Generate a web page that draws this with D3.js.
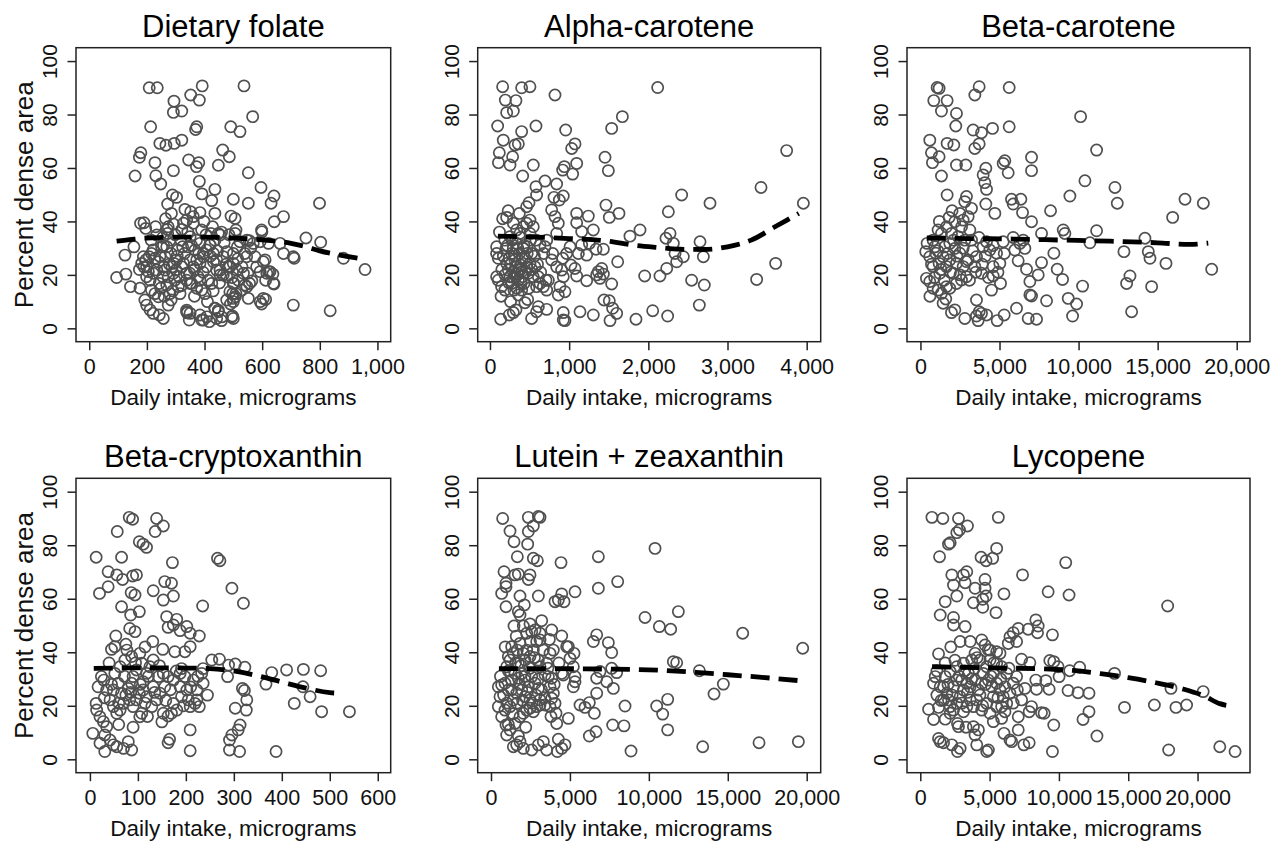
<!DOCTYPE html>
<html lang="en">
<head>
  <meta charset="UTF-8">
  <title>Dense area vs daily intake</title>
  <script src="https://d3js.org/d3.v7.min.js"></script>
  <style>
    body { margin: 0; background: #fff; }
    svg { display: block; font-family: "Liberation Sans", Arial, Helvetica, sans-serif; }
  </style>
</head>
<body>
  <div id="chart"></div>
  <script>
    // panel titles and axis ticks
    const titles = ["Dietary folate", "Alpha-carotene", "Beta-carotene", "Beta-cryptoxanthin", "Lutein + zeaxanthin", "Lycopene"];
    const yTicks = [0, 20, 40, 60, 80, 100];
    const xTicks = [
      [0, 200, 400, 600, 800, 1000],
      [0, 1000, 2000, 3000, 4000],
      [0, 5000, 10000, 15000, 20000],
      [0, 100, 200, 300, 400, 500, 600],
      [0, 5000, 10000, 15000, 20000],
      [0, 5000, 10000, 15000, 20000]
    ];
    const xDomains = [[-46, 1046], [-155, 4177], [-850, 20840], [-29, 627], [-843, 20887], [-959, 23784]];
    const yDomain = [-5, 105];
    const xLabel = "Daily intake, micrograms";
    const yLabel = "Percent dense area";

    // smoothed fits (dashed lines)
    const folateFitX = [95, 150, 200, 250, 300, 350, 400, 450, 500, 550, 600, 650, 700, 750, 800, 850, 900, 955];
    const folateFitY = [32.6, 33.3, 33.8, 34.0, 34.1, 34.1, 34.1, 34.0, 33.8, 33.5, 33.1, 32.6, 31.8, 30.6, 29.0, 27.8, 26.8, 25.8];
    const alphaFitX = [100, 500, 1000, 1500, 1800, 2100, 2400, 2700, 3000, 3300, 3600, 3900];
    const alphaFitY = [34.5, 34.2, 33.6, 32.6, 31.2, 30.3, 29.6, 29.5, 30.5, 33.0, 38.0, 43.0];
    const betaFitX = [400, 3000, 6000, 9000, 12000, 15000, 17000, 18200];
    const betaFitY = [33.8, 33.6, 33.4, 33.0, 32.6, 32.0, 31.4, 31.9];
    const cryptoFitX = [8, 50, 100, 150, 200, 250, 300, 350, 400, 450, 500, 520];
    const cryptoFitY = [34.0, 34.1, 34.2, 34.2, 34.1, 33.9, 33.0, 31.2, 28.9, 26.6, 24.9, 24.7];
    const luteinFitX = [500, 3000, 6000, 9000, 11000, 13000, 15000, 17000, 19700];
    const luteinFitY = [33.9, 33.9, 33.8, 33.6, 33.2, 32.5, 31.6, 30.7, 29.3];
    const lycoFitX = [850, 3000, 6000, 9000, 11000, 13000, 15000, 17000, 19000, 20500, 21600, 22700];
    const lycoFitY = [34.6, 34.4, 34.1, 33.8, 33.2, 32.0, 30.5, 28.6, 26.2, 23.6, 20.8, 19.8];

    // observations [intake, percent dense area]
    const folatePts = [
      [208,90],[236,90],[392,90.7],[537,90.7],[352,87.3],[382,85.4],[294,85],[292,80.8],[321,81.3],[567,79.2],
      [213,75.4],[373,75.4],[369,74.4],[491,75.4],[523,73.6],[321,70.4],[295,69.2],[266,68.5],[245,69.2],[463,66.7],
      [486,64.2],[179,65.7],[174,64],[345,63],[380,62],[372,60.5],[228,62],[448,61],[292,59],[552,58.2],
      [159,57],[231,57.1],[248,54],[382,55],[596,52.7],[436,52],[289,49.9],[303,49],[391,50.3],[641,49.5],
      [631,46.8],[799,46.8],[500,48.3],[425,47.8],[552,46.8],[332,44.5],[352,43.6],[272,46.5],[384,43.3],[436,43],
      [492,42],[506,41.1],[674,41.8],[642,39.9],[598,36.8],[509,36.8],[178,39.3],[190,39.5],[196,37.4],[271,37],
      [292,39],[321,37],[338,40.5],[361,41.8],[398,40],[390,36.8],[422,35.5],[752,33.8],[803,32.2],[448,35.5],
      [459,36],[555,32.8],[124,27.4],[155,30.5],[95,19],[127,20.3],[143,15.6],[176,15],[174,22],[188,26.8],
      [199,23],[208,26.8],[674,28],[711,26.2],[882,26.2],[957,22],[708,8.7],[836,6.6],[598,9.1],[612,10.8],
      [612,18],[622,21.2],[637,20.3],[641,16.6],[610,25.6],[575,26.8],[546,26.8],[560,30],[550,20.6],[556,16.8],
      [564,17.7],[502,16.8],[498,13],[509,13],[500,10],[490,9.1],[507,11.8],[497,4.6],[500,3.7],[338,6.2],
      [347,3.1],[340,5.8],[384,5],[396,3.1],[417,2.5],[436,7.5],[448,6.2],[459,2.9],[193,10.6],[199,8.7],
      [211,6.9],[222,5.6],[243,5],[257,3.7],[274,8.7],
      [327,39.3],[361,39.3],[350,34.3],[384,31.8],[396,28],[373,25.6],[408,23],[431,24.9],[442,21.8],[454,20],
      [465,26.8],[477,28.7],[483,23],[500,24.3],[512,21.8],[517,18],[535,20.6],[547,15.6],[500,16.8],[488,13.7],
      [500,11.2],[477,10.6],[425,16.8],[384,18],[350,16.8],[338,20.6],[327,24.3],[350,25.6],[344,30.5],[367,29.3],
      [419,31.2],[436,33],[454,34.9],[506,35.5],[547,33],[599,36.1],[593,32.4],[622,31.8],[662,31.8],[708,26.8],
      [604,24.9],[616,20.6],[627,21.2],[639,16.8],[552,11.2],[593,10],[604,11.2],[338,6.8],[350,5.6],[436,7.5],
      [448,6.8],[408,4.3],[390,3.1],[442,3.7],[460,4.3],[494,4.3],
      [182,24.3],[190,23],[197,25.6],[199,19.3],[205,21.2],[211,18],[216,28],[222,29.3],[228,26.2],[234,21.8],
      [240,24.9],[243,16.8],[248,15],[255,19.3],[259,23],[263,26.8],[269,30.5],[272,35.5],[274,38],[280,33],
      [284,28],[287,23],[292,20.6],[294,24.3],[297,18],[301,21.8],[303,25.6],[307,29.3],[309,15.6],[312,19.3],
      [315,13],[321,23],[324,30.5],[280,13],[269,16.2],[284,10.6],[274,19.3],[263,21.8],[251,30.5],[234,34.9],
      [255,34],[216,14.3],[228,13],[222,20.6],[240,11.8],
      [338,18],[355,16.8],[373,15],[390,14.3],[402,13],[378,19.3],[349,20.6],[361,23],[384,24.3],[396,26.8],
      [407,29.3],[419,31.2],[431,28],[442,25.6],[454,21.8],[465,20],[477,19.3],[488,23],[500,28],[514,30.5],
      [523,32.4],[540,28],[569,31.8],[581,23],[593,21.2],[529,14.3],[540,16.2],
      [215,33],[230,38],[245,27],[258,31],[265,41],[278,24],[285,43],[298,35],[305,27],[318,33],
      [330,28],[342,36],[355,31],[365,22],[372,33],[380,28],[395,21],[405,35],[412,18],[420,27],
      [428,38],[445,29],[452,17],[468,32],[475,24],[485,35],[495,19],[515,26],[530,23],[260,12],
      [290,14],[320,16],[365,12],[410,10],[430,14]
    ];
    const alphaPts = [
      [160,90.4],[400,90],[505,90.4],[194,85.4],[328,85.2],[211,80.7],[295,81.3],[821,87.3],[2118,90.1],[1672,79.2],
      [97,75.7],[581,75.7],[1537,74.8],[956,74.2],[400,73.6],[168,70.4],[358,69],[316,68.6],[1074,69],[1032,67.3],
      [3747,66.5],[118,65.7],[286,64.2],[107,62],[253,61.1],[547,61.1],[1095,61.7],[1453,64],[1495,59],[918,59.2],
      [939,60.5],[1044,57.7],[413,57],[695,55.1],[842,54],[581,53],[589,49.9],[3423,52.7],[2421,49.9],[926,49.5],
      [808,49],[876,48],[2779,46.8],[3958,46.8],[1465,46.1],[493,47],[463,45.5],[211,41.5],[371,43],[1095,43],
      [1242,42],[1629,43],[1507,41.5],[2253,43.6],[1895,36.8],[1768,34.5],[1305,36.8],[1158,36.2],[1095,39.5],[2653,32.4],
      [2223,33.7],[2274,35.5],[2316,31.8],[2337,28],[2358,24.9],[2442,26.8],[2695,26.8],[1613,24.9],[1954,19.6],[2147,19.6],
      [2232,22.4],[2547,18],[2707,16.2],[2644,8.7],[3608,24.3],[3368,18.3],[1537,16.6],[1440,10.6],[1507,10.3],[1549,7.5],
      [1600,5.6],[1516,2.9],[1305,5],[1137,6.2],[926,5.9],[926,3.1],[947,2.9],[1844,3.4],[2055,6.6],[2244,4.6],
      [526,3.7],[589,6.2],[611,8.1],[442,9.6],[476,10.8],[135,3.4],[244,5],[295,5.9],[328,6.9],[716,7.1],
      [1432,20.3],[1368,21.2],[1347,20],[1411,22.4],[1389,18.7],[1221,17.8],[1221,27.4],[1116,28],[1158,31.2],[1255,31.8],
      [1339,29.6],[1432,29.6],[1095,19.6],[1023,23.7],[1074,22.4],[918,26.2],[968,28],[1011,30.5],[947,13.7],[884,15.6],
      [863,12.5],[926,19.3],[905,21.8],[842,23],[779,25.6],[737,18],[674,15.6],[716,14.3],[632,16.8],[611,19.3],
      [707,18],[792,28],[842,35.5],[863,39.3],[821,41.8],[779,44.3],[716,33],[632,31.2],[695,30.5],[581,33],
      [505,35.5],[547,38],[463,39.3],[505,40.5],[421,38],[379,35.5],[337,36.8],[295,39.3],[253,34.3],[189,33],
      [84,30.5],[84,28],[105,26.2],[84,19.3],[105,18],[147,15.6],[189,14.3],[211,24.3],[232,21.8],[253,19.3],
      [274,28],[295,29.9],[316,25.6],[328,23],[345,20.6],[358,18],[371,28],[387,23.7],[400,21.2],[413,19.3],
      [429,16.8],[442,26.2],[463,23],[484,20.6],[505,24.3],[526,28],[547,19.3],[568,23],[589,15.6],[274,16.8],
      [303,14.3],[358,12.5],[400,14.3],[244,26.2],[202,29.9],[337,31.8],[421,29.9],[471,30.5],[379,21.8],[328,19.3],
      [295,21.2],
      [150,22],[170,27],[190,20],[220,31],[240,17],[260,24],[280,33],[300,19],[320,27],[340,15],
      [350,30],[365,22],[385,34],[395,17],[410,26],[430,31],[450,21],[470,28],[490,15],[510,33],
      [530,22],[560,27],[600,24],[640,21],[680,28],[120,36],[160,41],[230,44],[140,12],[260,10]
    ];
    const betaPts = [
      [1055,90.1],[1181,89.8],[3713,90.4],[5612,90.1],[3439,87.3],[844,85.2],[1688,85.2],[1329,81.3],[2278,80.4],[10127,79.2],
      [2236,75.7],[5612,75.4],[4557,74.8],[3333,74.2],[3861,73.2],[591,70.4],[1688,69.2],[2110,68.6],[3713,69],[3439,67.3],
      [11139,66.7],[696,65.7],[1181,64.2],[7025,64],[759,62],[2278,61.1],[2869,61.1],[5232,61.7],[5338,62.7],[4135,59.9],
      [5549,58.2],[7025,59],[1329,57],[3966,57.4],[4072,54.5],[4177,52],[10401,55.2],[12300,52.7],[12447,46.8],[9451,49.5],
      [1688,49.9],[2911,49.3],[2806,47.4],[5759,48.3],[5865,46.5],[6350,48.3],[4135,46.5],[16730,48.3],[17890,46.8],[15949,41.5],
      [8228,44],[6456,43.3],[4705,43],[3228,44.9],[1814,41.5],[7025,39.9],[11139,36.5],[9030,36.8],[9135,35.5],[7658,35.5],
      [10717,32],[12869,28.7],[14198,33.7],[14409,28.7],[14515,26.2],[15527,24.3],[18418,22.1],[8439,28.1],[7658,24.6],[8650,22.1],
      [8987,18.3],[10253,15.8],[13249,19.6],[13038,16.8],[14620,15.6],[13354,6.2],[9346,11.2],[9873,9.1],[9620,4.6],[7975,10.3],
      [6920,12.5],[7025,12.1],[6814,3.7],[7342,3.4],[6076,7.5],[5295,5],[4852,2.9],[6920,17.5],[7447,20],[6709,22.1],
      [6181,25.3],[5970,29.3],[6287,31.8],[6603,29.9],[6498,33],[5865,34],[5232,32.4],[5063,16.8],[4599,19.6],[4494,14.3],
      [4177,5],[3713,6.2],[3544,4.6],[3650,2.9],[3861,5.6],[2806,3.7],[2173,6.9],[1962,5.9],[1435,9.4],[3544,10.6],
      [3861,20.6],[3439,23.1],[3544,26.8],[3966,30.5],[4177,32.4],[4388,29.3],[4810,28.1],[5021,24.3],[4599,23.1],[3228,33],
      [3122,36.8],[2700,40.5],[3017,41.8],[2489,43],[2173,39.9],[1962,35.5],[2384,34.3],[1646,38],[1329,35.5],[1118,36.8],
      [802,33],[422,31.8],[338,28.7],[591,26.8],[380,18.7],[591,17.5],[802,15],[1118,14.3],[1329,13.1],[1646,15.6],
      [1857,15],[970,28.1],[1181,24.3],[1435,26.8],[1646,23.1],[1857,25.6],[2068,20.6],[2278,24.3],[2489,28.1],[2700,23.1],
      [2911,19.3],[3017,25.6],[2595,18.1],[2278,16.8],[1224,20.6],[802,23.1],[907,30.5],[1540,30.5],[1857,31.8],[2173,29.9],
      [2806,33],
      [700,24],[900,19],[1100,29],[1300,22],[1500,18],[1700,28],[1900,21],[2100,33],[2300,27],[2500,20],
      [2700,30],[2900,25],[3100,18],[3300,29],[3500,21],[3700,34],[3900,24],[4100,27],[4300,19],[4600,31],
      [4900,21],[5300,28],[1200,40],[2000,44],[2600,38],[600,12],[1600,11]
    ];
    const cryptoPts = [
      [82,90.4],[89,89.7],[139,90],[153,87.2],[136,85.1],[57,85.1],[103,81.3],[111,80.4],[118,79.2],[13,75.5],
      [66,75.5],[266,75.1],[271,74.2],[172,73.5],[38,70.1],[56,68.9],[68,67.2],[89,68.5],[97,68.9],[156,66.4],
      [170,65.8],[38,64.5],[20,62],[86,62.3],[94,61.4],[132,63],[174,61],[296,63.9],[320,58.3],[153,59.5],
      [235,57.3],[66,57],[103,55.2],[85,53.9],[54,46.1],[94,47.7],[83,48.9],[160,53.3],[163,49.3],[174,50.2],
      [181,52.3],[202,49.6],[188,48.1],[209,47.1],[228,46.1],[209,42.1],[198,40.2],[177,40.2],[152,41.1],[131,44],
      [45,41.1],[52,42.1],[77,40.8],[104,39.6],[254,37.1],[270,37.4],[289,35.2],[303,35.6],[323,34.4],[233,32.1],
      [188,32.1],[379,32.4],[410,33.4],[445,33.6],[481,33.1],[367,28.1],[444,27.1],[459,23.4],[426,20.9],[483,17.8],
      [541,17.8],[236,28.4],[318,26.5],[322,25.7],[327,22.2],[326,18.4],[303,19.1],[287,30.9],[313,12.8],[309,11],
      [296,9.1],[291,7.2],[291,3.5],[312,2.9],[388,2.9],[209,11],[209,3.2],[166,7.5],[163,6.2],[153,17.2],
      [163,16.2],[170,17.2],[181,18.4],[209,19.7],[219,20.9],[228,19.7],[205,22.2],[223,22.2],[202,25.9],[188,27.1],
      [174,29.6],[163,30.9],[156,27.1],[146,24.7],[139,22.2],[129,19.7],[118,23.4],[111,25.9],[111,29],[118,32.1],
      [125,34.6],[108,35.9],[97,33.4],[90,30.9],[87,28.4],[80,26.5],[75,24],[70,20.9],[63,18.4],[56,17.2],
      [49,19.7],[42,22.2],[35,25.9],[29,29.6],[24,30.9],[17,27.1],[13,20.9],[14,18.4],[21,15.9],[28,14.1],
      [35,12.2],[31,9.1],[6,9.7],[21,6],[31,2.9],[42,7.2],[49,5.4],[56,4.7],[70,4.1],[80,6.6],
      [87,3.5],[104,15.9],[108,17.2],[90,19.7],[97,22.2],[103,24.7],[132,27.1],[143,30.9],[153,32.1],[132,37.1],
      [87,38.4],[73,37.1],[63,34.6],[52,32.1],[59,28.4],[49,25.9],[66,24.7],[83,22.2],[174,20.9],[191,23.4],
      [198,30.9],[216,29.6],[223,25.9],[236,33.9],[191,33.9],
      [30,23],[45,28],[60,21],[72,31],[85,25],[95,36],[105,28],[115,21],[122,31],[135,25],
      [145,35],[158,22],[168,26],[180,33],[195,20],[210,27],[225,31],[245,24],[60,13],[90,12],
      [120,16],[150,14],[40,36],[75,43],[115,42]
    ];
    const luteinPts = [
      [739,90],[2365,90.4],[2999,90.7],[3105,90.4],[2682,87.2],[1204,85.3],[2365,85.1],[1457,81.3],[2323,80.4],[10391,78.8],
      [1668,75.7],[2682,75.1],[2936,74.2],[6801,75.7],[4435,73.5],[824,70.1],[1521,68.9],[1732,69.2],[2471,68.9],[2365,67.2],
      [8025,66.4],[950,65.8],[676,62],[950,64.5],[1837,61],[2999,61],[6801,63.9],[5322,62.6],[4478,61.8],[4055,58.9],
      [4266,59.5],[4625,58.9],[950,57],[2112,57.7],[1837,53.9],[3210,51.8],[1457,49.8],[2471,50.6],[2577,47.7],[11869,55.2],
      [9757,53],[10665,49.6],[11383,48.6],[15945,47.1],[3696,44.8],[4478,46.1],[4794,42.1],[6695,46.5],[6484,44],[7434,43.6],
      [7645,39.9],[19747,41.5],[11552,36.5],[11763,36.1],[13200,33.1],[14720,28.1],[14129,24.4],[7645,34],[7962,32.4],[6695,30.3],
      [6907,32.8],[7329,29],[7751,26.5],[6695,24.7],[8490,19.9],[10496,19.9],[10877,16.9],[11193,22.4],[11193,11],[6547,17.2],
      [6230,21.2],[5956,19.4],[5639,20.3],[7709,12.8],[8427,12.5],[6652,10.3],[6230,8.7],[8870,3.1],[13411,4.7],[16980,6.2],
      [19472,6.6],[5322,29],[5216,27.1],[5322,30.9],[5216,34.6],[5259,39.6],[5005,37.7],[4900,42.1],[4478,32.1],[4583,31.5],
      [3844,30.3],[3633,30.9],[3421,31.5],[3105,34.6],[2999,37.1],[3316,40.8],[3738,39.6],[3949,40.8],[3527,35.9],[3844,48.3],
      [3105,44.6],[2788,48.3],[2260,47.1],[3738,27.1],[3949,24.7],[3844,22.8],[4055,20.9],[3738,19.7],[3421,20.3],[4118,17.2],
      [4160,13.4],[4900,15.3],[4266,7.5],[4203,2.9],[4478,4.1],[4689,5.4],[3316,6.6],[2999,5.4],[3527,3.5],[2577,3.5],
      [2049,4.1],[1626,5.4],[1415,4.7],[1837,6.6],[1732,8.7],[993,9.1],[1204,11],[950,12.8],[1521,13.4],[1837,15.9],
      [2049,17.2],[2260,18.4],[2471,19.1],[2682,17.8],[2895,19.7],[3105,20.3],[3105,22.2],[2471,22.2],[2154,23.4],[1943,25.9],
      [1626,24.7],[1415,22.2],[1204,19.7],[887,18.4],[676,15.9],[465,19.7],[570,23.4],[465,27.1],[676,27.8],[887,28.4],
      [1098,25.9],[1309,29.6],[1521,32.1],[1732,30.3],[1943,32.1],[2154,29.6],[2365,27.1],[2577,30.9],[2788,28.4],[2999,26.5],
      [993,34.6],[1204,37.1],[1415,39.6],[1668,40.8],[1837,43.3],[2049,39.6],[2260,40.8],[2471,38.4],[2154,37.1],[1732,35.9],
      [2682,40.8],[2895,44],[1309,42.1],[1098,38.4],[2049,49.8],[1732,55.2],[3105,47.1],
      [600,31],[800,24],[1000,21],[1100,33],[1300,26],[1400,17],[1550,36],[1650,21],[1800,28],[1900,35],
      [2000,22],[2150,31],[2300,25],[2450,34],[2600,21],[2750,38],[2850,24],[3000,30],[3200,26],[3400,23],
      [3600,34],[3800,16],[4000,28],[4300,36],[900,42],[1600,46],[2500,44],[1100,13],[2200,12]
    ];
    const lycoPts = [
      [838,90.4],[1629,90],[2754,90],[5629,90.4],[3401,87.2],[2635,84.7],[2826,85.7],[2036,80.4],[2156,80.9],[5509,78.8],
      [1389,75.7],[4383,75.5],[4743,74.2],[5222,75.1],[10491,73.5],[7377,68.9],[3353,70.1],[2275,68.9],[3114,68.9],[3234,66],
      [2395,65.1],[4671,67.2],[4671,63.9],[3952,63.9],[4743,61],[4503,59.8],[2635,61],[1796,58.9],[3832,58.5],[6036,61.8],
      [9222,62.6],[10730,61.4],[4503,56.8],[5461,54.8],[17844,57.3],[1437,53.9],[2395,53],[2395,50.2],[3234,49.6],[8335,52.1],
      [8503,49.8],[8455,47.3],[9533,46.5],[7784,48.6],[7066,48.9],[6707,47.3],[6467,45.8],[6946,44],[6347,43.3],[2874,44],
      [4431,44.6],[4671,42.7],[5030,40.8],[5509,40.2],[5749,39.6],[1317,39.4],[9341,36.9],[9628,36.5],[9940,34.6],[7305,37.4],
      [7904,36.1],[10778,33.1],[11497,34.4],[14012,32.1],[10012,30.9],[10659,25.7],[11377,24.9],[12168,24.7],[12168,17.8],[11737,14.9],
      [12743,8.7],[14731,19.4],[16886,20.3],[18084,26.5],[18443,19.4],[19210,20.3],[20407,25.3],[17916,3.5],[21605,4.7],[22707,2.9],
      [9533,2.9],[9628,12.8],[9054,29.4],[9293,26.2],[8335,29.6],[8383,26.2],[8743,17.4],[8934,17.2],[8024,19.7],[7856,17.8],
      [7545,26.5],[7305,22.2],[7066,15.9],[7066,11],[6587,6.6],[6467,7.2],[7473,5.4],[7856,6.2],[6036,9.7],[5868,15.3],
      [5269,14.1],[5030,17.2],[4910,3.5],[4790,2.9],[4072,5.4],[3952,9.1],[3832,12.2],[4192,11],[2874,4.1],[2683,2.9],
      [2275,5.4],[1677,6.2],[1437,6.6],[1317,7.8],[2683,13.4],[2754,12.2],[958,14.9],[599,18.7],[1317,19.4],[958,28.4],
      [1078,30.9],[1677,27.1],[1916,24.7],[2036,22.2],[2156,19.7],[2395,18.4],[2635,20.9],[2874,23.4],[3114,25.9],[3353,28.4],
      [3473,32.1],[3593,22.2],[3832,19.7],[4072,22.2],[4192,25.9],[4431,28.4],[4551,32.1],[4790,34.6],[5030,37.1],[5269,32.1],
      [5509,28.4],[5749,25.9],[5988,23.4],[6228,20.9],[6467,24.7],[6707,28.4],[6946,30.9],[6228,32.1],[5868,34.6],[5509,35.9],
      [4311,37.1],[3952,39.6],[3713,37.1],[3114,35.9],[2635,34.6],[2156,32.8],[1796,30.9],[1437,27.1],[1198,24],[1677,22.2],
      [2156,17.2],[3114,17.8],[3353,19.7],[4431,18.4],[4790,20.9],[5269,23.4],[5509,19.7],[5150,27.1],[4910,29.6],[3952,29.6],
      [3593,27.1],[2994,29.6],[2395,27.1],[2635,29.6],[5868,19.7],[6107,17.8],
      [1200,33],[1500,22],[1800,36],[2000,28],[2300,24],[2500,37],[2800,31],[3000,21],[3200,33],[3400,25],
      [3700,30],[3900,34],[4100,38],[4300,24],[4500,20],[4700,28],[4900,41],[5100,31],[5300,36],[5600,23],
      [5800,30],[6100,27],[6400,34],[6700,21],[7000,26],[2200,42],[3600,44],[1800,15],[3300,12]
    ];

    const pointSets = [folatePts, alphaPts, betaPts, cryptoPts, luteinPts, lycoPts];
    const fitXs = [folateFitX, alphaFitX, betaFitX, cryptoFitX, luteinFitX, lycoFitX];
    const fitYs = [folateFitY, alphaFitY, betaFitY, cryptoFitY, luteinFitY, lycoFitY];

    // frame geometry of the 2x3 grid
    const W = 1280, H = 843;
    const colLeft = [76, 477.7, 907];
    const colRight = [390.7, 820.7, 1250];
    const rowTop = [47.7, 478.3];
    const rowBottom = [341.7, 772.7];

    const svg = d3.select("#chart").append("svg")
      .attr("width", W)
      .attr("height", H);

    const fmt = d3.format(",");

    titles.forEach((title, i) => {
      const col = i % 3, row = Math.floor(i / 3);
      const x0 = colLeft[col], x1 = colRight[col];
      const y0 = rowTop[row], y1 = rowBottom[row];

      const x = d3.scaleLinear().domain(xDomains[i]).range([x0, x1]);
      const y = d3.scaleLinear().domain(yDomain).range([y1, y0]);

      const g = svg.append("g");

      // title
      g.append("text")
        .attr("x", (x0 + x1) / 2)
        .attr("y", y0 - 11)
        .attr("text-anchor", "middle")
        .attr("font-size", 31)
        .attr("fill", "#000")
        .text(title);

      // x axis
      const xAxis = g.append("g")
        .attr("transform", `translate(0,${y1})`)
        .call(d3.axisBottom(x).tickValues(xTicks[i]).tickFormat(fmt).tickSize(8.5).tickSizeOuter(0));
      xAxis.attr("font-family", null);
      xAxis.select(".domain").remove();
      xAxis.selectAll("line").attr("stroke", "#222").attr("stroke-width", 1.5);
      xAxis.selectAll("text")
        .attr("y", 32.5)
        .attr("dy", 0)
        .attr("font-size", 21.5)
        .attr("fill", "#111");

      // y axis
      const yAxis = g.append("g")
        .attr("transform", `translate(${x0},0)`)
        .call(d3.axisLeft(y).tickValues(yTicks).tickSize(8.5).tickSizeOuter(0));
      yAxis.attr("font-family", null);
      yAxis.select(".domain").remove();
      yAxis.selectAll("line").attr("stroke", "#222").attr("stroke-width", 1.5);
      yAxis.selectAll("text")
        .attr("transform", "rotate(-90)")
        .attr("x", 0)
        .attr("y", -19)
        .attr("dy", 0)
        .attr("text-anchor", "middle")
        .attr("font-size", 21)
        .attr("fill", "#111");

      // axis titles
      g.append("text")
        .attr("x", (x0 + x1) / 2)
        .attr("y", y1 + 63)
        .attr("text-anchor", "middle")
        .attr("font-size", 22.5)
        .attr("fill", "#111")
        .text(xLabel);

      if (col === 0) {
        g.append("text")
          .attr("transform", `translate(${x0 - 43},${(y0 + y1) / 2}) rotate(-90)`)
          .attr("text-anchor", "middle")
          .attr("font-size", 26)
          .attr("fill", "#111")
          .text(yLabel);
      }

      // points
      g.append("g")
        .selectAll("circle")
        .data(pointSets[i])
        .join("circle")
        .attr("cx", d => x(d[0]))
        .attr("cy", d => y(d[1]))
        .attr("r", 5.6)
        .attr("fill", "none")
        .attr("stroke", "#505050")
        .attr("stroke-width", 1.7);

      // dashed smoothed fit
      const fit = fitXs[i].map((v, k) => [v, fitYs[i][k]]);
      g.append("path")
        .datum(fit)
        .attr("fill", "none")
        .attr("stroke", "#000")
        .attr("stroke-width", 4.8)
        .attr("stroke-dasharray", "19,9")
        .attr("d", d3.line().curve(d3.curveMonotoneX).x(d => x(d[0])).y(d => y(d[1])));

      // plot frame
      g.append("rect")
        .attr("x", x0)
        .attr("y", y0)
        .attr("width", x1 - x0)
        .attr("height", y1 - y0)
        .attr("fill", "none")
        .attr("stroke", "#222")
        .attr("stroke-width", 1.5);
    });
  </script>
</body>
</html>
